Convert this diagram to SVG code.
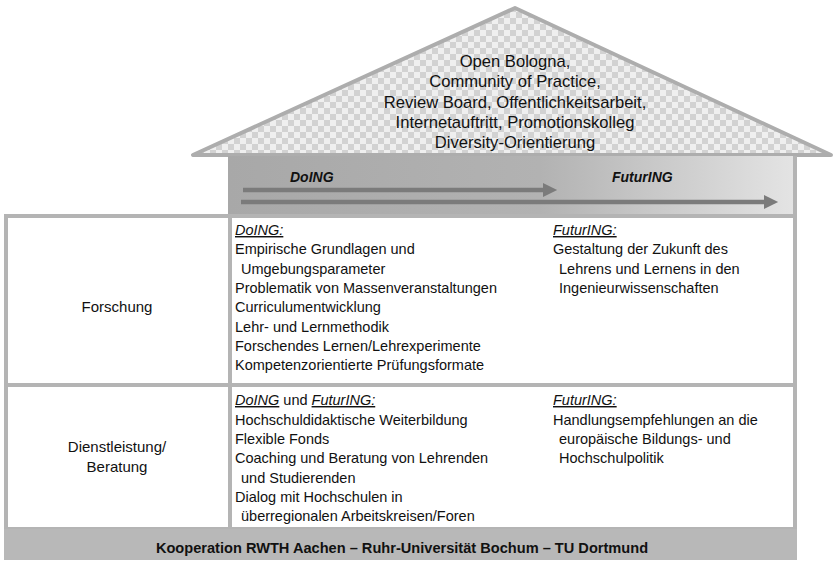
<svg xmlns="http://www.w3.org/2000/svg" width="834" height="563" viewBox="0 0 834 563">
  <style>
    text { font-family: "Liberation Sans", Arial, sans-serif; fill: #111; }
    .roof { font-size: 16.6px; text-anchor: middle; }
    .body { font-size: 14.5px; }
    .head { font-size: 14.5px; font-style: italic; text-decoration: underline; }
    .lbl { font-size: 15px; text-anchor: middle; }
    .band { font-size: 14px; font-weight: bold; font-style: italic; }
    .foot { font-size: 14.6px; font-weight: bold; text-anchor: middle; }
    .cell { fill: #fff; stroke: #b4b4b4; stroke-width: 4; }
    .arrow { stroke: #7b7b7b; stroke-width: 4.5; fill: none; }
  </style>
  <defs>
    <pattern id="checks" width="12" height="12" patternUnits="userSpaceOnUse">
      <rect width="12" height="12" fill="#efefef"/>
      <rect width="6" height="6" fill="#d2d2d2"/>
      <rect x="6" y="6" width="6" height="6" fill="#d2d2d2"/>
    </pattern>
    <linearGradient id="bandFill" x1="0" y1="0" x2="1" y2="0">
      <stop offset="0" stop-color="#a8a8a8"/>
      <stop offset="0.55" stop-color="#b2b2b2"/>
      <stop offset="1" stop-color="#e4e4e4"/>
    </linearGradient>
    <marker id="head" markerWidth="4" markerHeight="4" refX="0.5" refY="2" orient="auto" markerUnits="strokeWidth">
      <path d="M0,0.4 L3.2,2 L0,3.6 Z" fill="#7b7b7b"/>
    </marker>
  </defs>

  <rect width="834" height="563" fill="#fff"/>

  <!-- roof -->
  <g id="roof">
    <polygon points="515,8 193,155 831,155" fill="url(#checks)" stroke="#adadad" stroke-width="4" stroke-linejoin="round"/>
    <text class="roof" x="515" y="67">Open Bologna,</text>
    <text class="roof" x="515" y="87">Community of Practice,</text>
    <text class="roof" x="515" y="108">Review Board, Offentlichkeitsarbeit,</text>
    <text class="roof" x="515" y="128">Internetauftritt, Promotionskolleg</text>
    <text class="roof" x="515" y="148">Diversity-Orientierung</text>
  </g>

  <!-- timeline band -->
  <g id="band">
    <rect x="228" y="156" width="567" height="59" fill="url(#bandFill)"/>
    <line x1="795" y1="156" x2="795" y2="215" stroke="#b4b4b4" stroke-width="4"/>
    <text class="band" x="290" y="182">DoING</text>
    <text class="band" x="612" y="182">FuturING</text>
  </g>

  <!-- table -->
  <g id="row-forschung">
    <rect class="cell" x="6" y="216" width="224" height="169"/>
    <rect class="cell" x="230" y="216" width="565" height="169"/>
    <text class="lbl" x="117" y="312">Forschung</text>
    <text class="head" x="235" y="235">DoING:</text>
    <text class="body" x="235" y="254">Empirische Grundlagen und</text>
    <text class="body" x="241" y="274">Umgebungsparameter</text>
    <text class="body" x="235" y="293">Problematik von Massenveranstaltungen</text>
    <text class="body" x="235" y="312">Curriculumentwicklung</text>
    <text class="body" x="235" y="332">Lehr- und Lernmethodik</text>
    <text class="body" x="235" y="351">Forschendes Lernen/Lehrexperimente</text>
    <text class="body" x="235" y="370">Kompetenzorientierte Prüfungsformate</text>
    <text class="head" x="553" y="235">FuturING:</text>
    <text class="body" x="553" y="254">Gestaltung der Zukunft des</text>
    <text class="body" x="559" y="274">Lehrens und Lernens in den</text>
    <text class="body" x="559" y="293">Ingenieurwissenschaften</text>
  </g>

  <g id="row-dienstleistung">
    <rect class="cell" x="6" y="385" width="224" height="144"/>
    <rect class="cell" x="230" y="385" width="565" height="144"/>
    <text class="lbl" x="117" y="452">Dienstleistung/</text>
    <text class="lbl" x="117" y="472">Beratung</text>
    <text class="body" x="235" y="405"><tspan class="head">DoING</tspan> und <tspan class="head">FuturING:</tspan></text>
    <text class="body" x="235" y="425">Hochschuldidaktische Weiterbildung</text>
    <text class="body" x="235" y="444">Flexible Fonds</text>
    <text class="body" x="235" y="463">Coaching und Beratung von Lehrenden</text>
    <text class="body" x="241" y="483">und Studierenden</text>
    <text class="body" x="235" y="502">Dialog mit Hochschulen in</text>
    <text class="body" x="241" y="521">überregionalen Arbeitskreisen/Foren</text>
    <text class="head" x="553" y="405">FuturING:</text>
    <text class="body" x="553" y="425">Handlungsempfehlungen an die</text>
    <text class="body" x="559" y="444">europäische Bildungs- und</text>
    <text class="body" x="559" y="463">Hochschulpolitik</text>
  </g>

  <g id="footer">
    <rect x="4" y="529" width="793" height="31" fill="#b8b8b8"/>
    <text class="foot" x="402" y="553">Kooperation RWTH Aachen – Ruhr-Universität Bochum – TU Dortmund</text>
  </g>

  <!-- DoING / FuturING arrows -->
  <g id="connectors">
    <line class="arrow" x1="243" y1="190" x2="545" y2="190" marker-end="url(#head)"/>
    <line class="arrow" x1="241" y1="202" x2="766" y2="202" marker-end="url(#head)"/>
  </g>
</svg>
